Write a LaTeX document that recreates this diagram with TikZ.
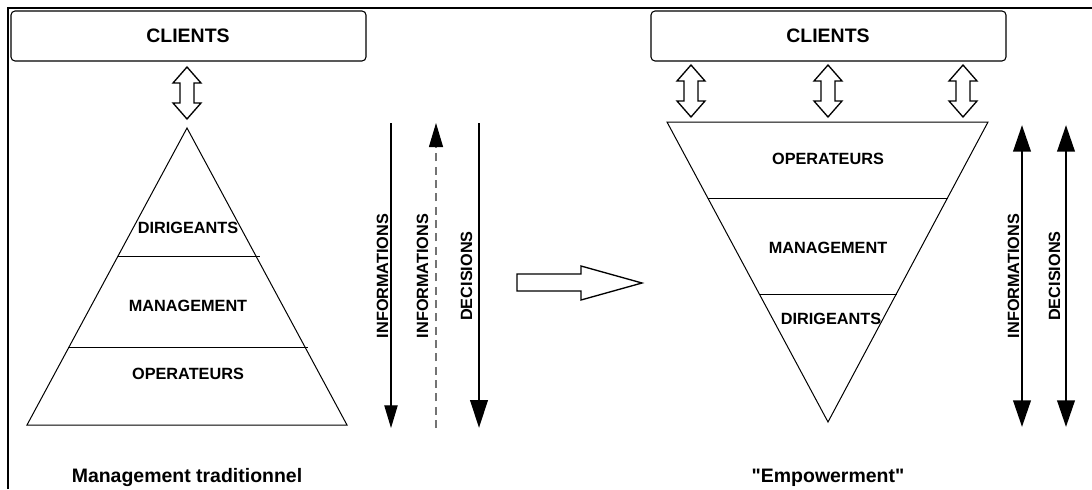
\documentclass[tikz,border=0pt]{standalone}
\usepackage{fontspec}
\setmainfont{Liberation Sans}[Ligatures=TeXOff]
\usetikzlibrary{arrows.meta}
\tikzset{
  lbl/.style={inner sep=0pt, anchor=base, font=\bfseries\fontsize{12.2}{14}\selectfont},
  biglbl/.style={inner sep=0pt, anchor=base, font=\bfseries\fontsize{14.6}{17}\selectfont},
  vlbl/.style={lbl, rotate=90},
  clientbox/.style={draw, line width=0.8pt, rounded corners=3pt},
  pyr/.style={draw, line width=0.75pt},
  blockarrow/.style={draw, line width=1pt, fill=white},
  thinarrow/.style={line width=0.8pt, -{Triangle[length=17pt,width=10pt]}},
  dasharrow/.style={line width=0.8pt, black!55, dash pattern=on 6pt off 4pt, -{Triangle[length=18pt,width=10.5pt,black]}},
  thickarrow/.style={line width=2.2pt, -{Triangle[length=21pt,width=13pt]}},
  thickdbl/.style={line width=2.2pt, {Triangle[length=20pt,width=13pt]}-{Triangle[length=20pt,width=13pt]}},
  dbl/.pic={\draw[blockarrow] (0,0) -- (14,16) -- (7,16) -- (7,36) -- (14,36) -- (0,52) -- (-14,36) -- (-7,36) -- (-7,16) -- (-14,16) -- cycle;}
}
\begin{document}
\begin{tikzpicture}[x=0.75pt, y=-0.75pt]
\useasboundingbox (0,0) rectangle (1092,489);
% frame
\draw[line width=1.5pt] (8,489) -- (8,8) -- (1092,8);

% ---------- left : traditional management ----------
\draw[clientbox] (11,11) rectangle (366,61);
\node[biglbl] (clientsL) at (188,42) {CLIENTS};
\pic at (187,67) {dbl};

\draw[pyr] (187,128) -- (347,425) -- (27,425) -- cycle;
\draw[pyr] (118,256) -- (260,256);
\draw[pyr] (68,347) -- (308,347);
\node[lbl] (dirL) at (188,233) {DIRIGEANTS};
\node[lbl] (manL) at (188,311) {MANAGEMENT};
\node[lbl] (opL) at (188,379) {OPERATEURS};

\coordinate (a1t) at (391,123); \coordinate (a1b) at (391,428);
\coordinate (a2t) at (436,123); \coordinate (a2b) at (436,428);
\coordinate (a3t) at (479,123); \coordinate (a3b) at (479,428);
\draw[thinarrow] (a1t) -- (a1b);
\draw[dasharrow] (a2b) -- (a2t);
\draw[thickarrow] (a3t) -- (a3b);
\node[vlbl] (infL1) at (388,276) {INFORMATIONS};
\node[vlbl] (infL2) at (428,276) {INFORMATIONS};
\node[vlbl] (decL) at (472,276) {DECISIONS};

\node[biglbl] (titleL) at (187,482) {Management traditionnel};

% ---------- transition arrow ----------
\draw[blockarrow] (517,274) -- (581,274) -- (581,266) -- (642,283) -- (581,300) -- (581,291) -- (517,291) -- cycle;

% ---------- right : empowerment ----------
\draw[clientbox] (651,11) rectangle (1006,61);
\node[biglbl] (clientsR) at (828,42) {CLIENTS};
\pic at (691,65) {dbl};
\pic at (828,65) {dbl};
\pic at (963,65) {dbl};

\draw[pyr] (667,122) -- (988,122) -- (828,422) -- cycle;
\draw[pyr] (708,198) -- (948,198);
\draw[pyr] (760,294) -- (897,294);
\node[lbl] (opR) at (828,164) {OPERATEURS};
\node[lbl] (manR) at (828,253) {MANAGEMENT};
\node[lbl] (dirR) at (831,324) {DIRIGEANTS};

\coordinate (b1t) at (1022,125); \coordinate (b1b) at (1022,427);
\coordinate (b2t) at (1066,125); \coordinate (b2b) at (1066,427);
\draw[thickdbl] (b1t) -- (b1b);
\draw[thickdbl] (b2t) -- (b2b);
\node[vlbl] (infR) at (1019,276) {INFORMATIONS};
\node[vlbl] (decR) at (1060,276) {DECISIONS};

\node[biglbl] (titleR) at (828,482) {"Empowerment"};
\end{tikzpicture}
\end{document}
